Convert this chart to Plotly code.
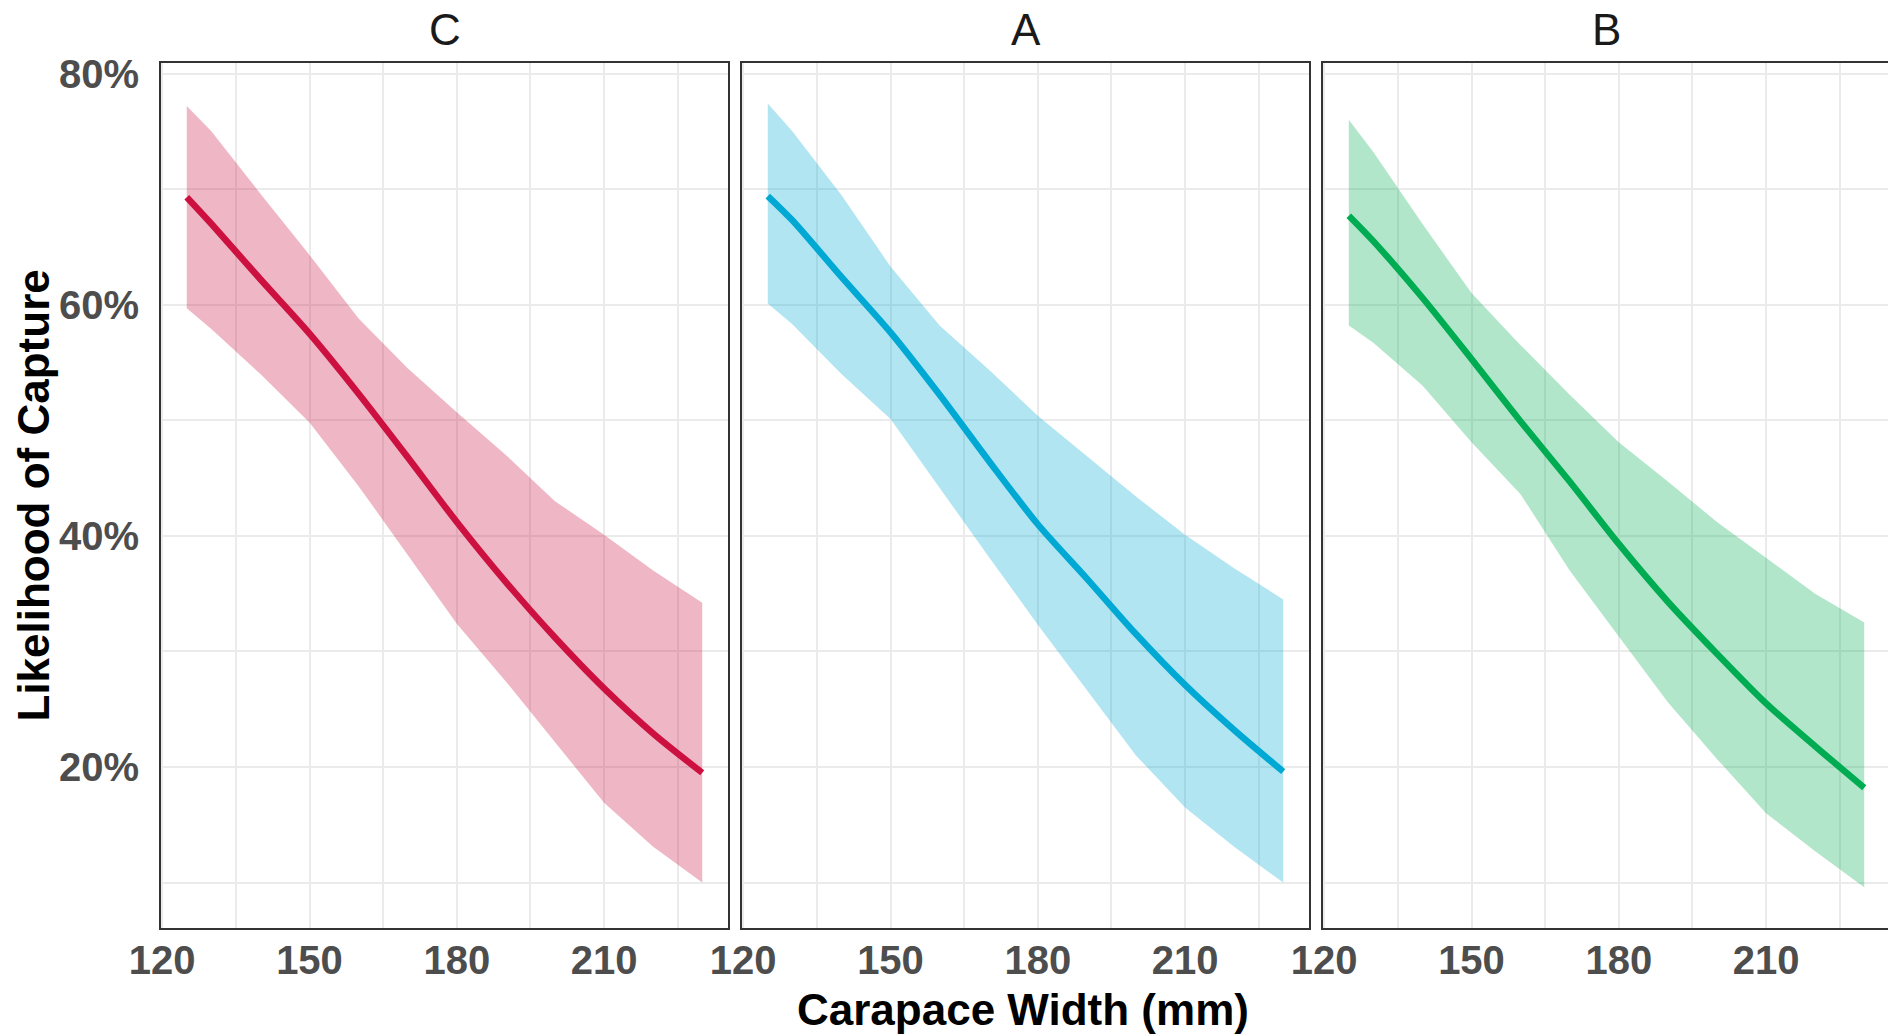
import plotly.graph_objects as go

# ---------------- data ----------------
carapace_width = [125, 130, 140, 150, 160, 170, 180, 190, 200, 210, 220, 230]
panel_names = ["C", "A", "B"]

c_fit   = [69.3, 67.0, 62.2, 57.5, 52.3, 46.8, 41.2, 36.0, 31.2, 26.8, 22.9, 19.5]
c_upper = [77.2, 75.0, 69.6, 64.3, 58.8, 54.5, 50.7, 47.0, 43.0, 40.1, 37.0, 34.2]
c_lower = [59.7, 57.9, 54.0, 49.8, 44.3, 38.3, 32.4, 27.4, 22.2, 16.9, 13.1, 10.0]

a_fit   = [69.4, 67.3, 62.4, 57.6, 52.2, 46.5, 41.0, 36.3, 31.5, 27.1, 23.2, 19.6]
a_upper = [77.4, 75.0, 69.5, 63.3, 58.2, 54.4, 50.4, 46.9, 43.4, 40.1, 37.2, 34.5]
a_lower = [60.1, 58.3, 54.0, 50.1, 44.2, 38.2, 32.3, 26.6, 21.0, 16.5, 13.1, 10.0]

b_fit   = [67.7, 65.5, 60.6, 55.3, 49.9, 44.7, 39.3, 34.3, 29.8, 25.5, 21.8, 18.2]
b_upper = [76.0, 73.2, 67.0, 61.0, 56.5, 52.2, 48.1, 44.7, 41.2, 38.1, 35.0, 32.5]
b_lower = [58.2, 56.7, 53.0, 48.1, 43.6, 37.0, 31.3, 25.6, 20.7, 16.0, 12.7, 9.6]

line_colors = ["#CC1040", "#00A8D4", "#00AC52"]
ribbon_colors = ["rgba(202,18,62,0.30)", "rgba(0,168,212,0.30)", "rgba(0,172,82,0.30)"]

x_ticks = [120, 150, 180, 210]
x_minor_ticks = [135, 165, 195, 225]
y_ticks = [20, 40, 60, 80]
y_minor_ticks = [10, 30, 50, 70]
y_tick_labels = ["20%", "40%", "60%", "80%"]

x_title = "Carapace Width (mm)"
y_title = "Likelihood of Capture"

fits = [c_fit, a_fit, b_fit]
uppers = [c_upper, a_upper, b_upper]
lowers = [c_lower, a_lower, b_lower]

# ---------------- layout geometry ----------------
W, H = 1888, 1034
ml, mt, mb = 161, 63, 106
plot_w = W - ml
plot_h = H - mt - mb
panel_px = 567
gap_px = 14
x0 = 119.75
x_span = 115.5
px_per_unit = panel_px / x_span
y_range = [6.07, 80.91]

FONT = "Liberation Sans, Arial, sans-serif"
GRID = "#EBEBEB"
BORDER = "#333333"

fig = go.Figure()

for i in range(3):
    suffix = "" if i == 0 else str(i + 1)
    xa, ya = "x" + suffix, "y" + suffix
    xs = carapace_width
    fig.add_trace(go.Scatter(
        x=xs + xs[::-1], y=uppers[i] + lowers[i][::-1],
        fill="toself", fillcolor=ribbon_colors[i], line=dict(width=0),
        mode="lines", hoverinfo="skip", showlegend=False, xaxis=xa, yaxis=ya))
    fig.add_trace(go.Scatter(
        x=xs, y=fits[i], mode="lines",
        line=dict(color=line_colors[i], width=6.5, shape="spline", smoothing=0.8),
        showlegend=False, xaxis=xa, yaxis=ya))

layout = dict(
    width=W, height=H,
    margin=dict(l=ml, r=0, t=mt, b=mb, pad=0),
    paper_bgcolor="white", plot_bgcolor="white",
    showlegend=False,
    font=dict(family=FONT),
)

annotations = []
for i in range(3):
    left_px = i * (panel_px + gap_px)
    right_px = min(left_px + panel_px, plot_w)
    left, right = left_px / plot_w, right_px / plot_w
    full_center = (left_px + panel_px / 2) / plot_w
    suffix = "" if i == 0 else str(i + 1)
    layout["xaxis" + suffix] = dict(
        domain=[left, right], anchor="y" + suffix,
        range=[x0, x0 + (right_px - left_px) / px_per_unit],
        tickmode="array", tickvals=x_ticks, ticktext=[str(v) for v in x_ticks],
        showgrid=True, gridcolor=GRID, gridwidth=2,
        minor=dict(tickmode="array", tickvals=x_minor_ticks,
                   showgrid=True, gridcolor=GRID, gridwidth=1.5),
        showline=True, linecolor=BORDER, linewidth=2, mirror=True,
        zeroline=False, ticks="",
        ticklabelstandoff=-4,
        tickfont=dict(family=FONT, size=40, color="#4D4D4D", weight="bold"),
    )
    layout["yaxis" + suffix] = dict(
        domain=[0, 1], anchor="x" + suffix, range=y_range,
        tickmode="array", tickvals=y_ticks, ticktext=y_tick_labels,
        showticklabels=(i == 0),
        showgrid=True, gridcolor=GRID, gridwidth=2,
        minor=dict(tickmode="array", tickvals=y_minor_ticks,
                   showgrid=True, gridcolor=GRID, gridwidth=1.5),
        showline=True, linecolor=BORDER, linewidth=2, mirror=(i < 2),
        zeroline=False, ticks="",
        ticklabelstandoff=12,
        tickfont=dict(family=FONT, size=40, color="#4D4D4D", weight="bold"),
    )
    annotations.append(dict(
        text=panel_names[i], xref="paper", yref="paper",
        x=full_center, y=1 + 33 / plot_h,
        xanchor="center", yanchor="middle", showarrow=False,
        font=dict(family=FONT, size=44, color="#1A1A1A")))

annotations.append(dict(
    text=x_title, xref="paper", yref="paper",
    x=(1023 - ml) / plot_w, y=-(1009 - (mt + plot_h)) / plot_h,
    xanchor="center", yanchor="middle", showarrow=False,
    font=dict(family=FONT, size=44, color="black", weight="bold")))
annotations.append(dict(
    text=y_title, xref="paper", yref="paper",
    x=-(ml - 33) / plot_w, y=0.5, textangle=-90,
    xanchor="center", yanchor="middle", showarrow=False,
    font=dict(family=FONT, size=44, color="black", weight="bold")))

layout["annotations"] = annotations
fig.update_layout(**layout)
fig.write_html(
    "out.html",
    config={"displayModeBar": False},
    post_script="document.body.style.margin='0';document.body.style.overflow='hidden';",
)
